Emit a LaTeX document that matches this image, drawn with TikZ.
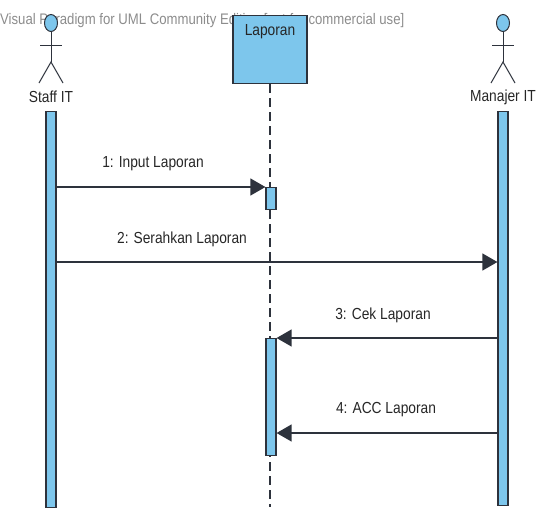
\documentclass[tikz,border=0pt]{standalone}
\usepackage{fontspec}
\setmainfont[FakeStretch=0.86]{Liberation Sans}
\usetikzlibrary{arrows.meta,shapes.geometric}
\definecolor{umlblue}{RGB}{125,198,236}
\definecolor{umlline}{RGB}{45,50,60}
\definecolor{wmgray}{RGB}{140,140,140}
\tikzset{
  bar/.style={draw=umlline, fill=umlblue, line width=1.2pt, minimum width=10pt, inner sep=0pt, anchor=north},
  msg/.style={draw=umlline, line width=1.3pt, -{Triangle[length=15pt,width=17pt]}},
  lbl/.style={font=\fontsize{16}{18}\selectfont, inner sep=0pt, text=black!85},
  actorline/.style={draw=umlline, line width=1pt},
  lifeline/.style={draw=umlline, line width=1.2pt, dash pattern=on 9pt off 5pt},
  headstyle/.style={draw=umlline, fill=umlblue, ellipse, minimum width=13pt, minimum height=17pt, inner sep=0pt, line width=1pt},
}
\begin{document}
\begin{tikzpicture}[x=1pt,y=-1pt]
\useasboundingbox (0,0) rectangle (538,507);
% watermark
\node[anchor=west, inner sep=0pt, text=wmgray, font=\fontsize{15.3}{17}\selectfont] (wm) at (0,21) {Visual Paradigm for UML Community Edition [not for commercial use]};
% Staff IT actor
\node[headstyle] (shead) at (51,23) {};
\coordinate (ship) at (51,62);
\coordinate (sarmL) at (40,45);
\coordinate (sarmR) at (62,45);
\coordinate (slegL) at (39,83);
\coordinate (slegR) at (63,83);
\draw[actorline] (shead.south) -- (ship);
\draw[actorline] (sarmL) -- (sarmR);
\draw[actorline] (slegL) -- (ship) -- (slegR);
\node[lbl] (sname) at (51,97) {Staff IT};
% Manajer IT actor
\node[headstyle] (mhead) at (503,23) {};
\coordinate (mhip) at (503,62);
\coordinate (marmL) at (492,45);
\coordinate (marmR) at (514,45);
\coordinate (mlegL) at (491,83);
\coordinate (mlegR) at (515,83);
\draw[actorline] (mhead.south) -- (mhip);
\draw[actorline] (marmL) -- (marmR);
\draw[actorline] (mlegL) -- (mhip) -- (mlegR);
\node[lbl] (mname) at (503,97) {Manajer IT};
% Laporan object
\node[draw=umlline, fill=umlblue, line width=1.2pt, minimum width=74pt, minimum height=68pt, anchor=north, inner sep=0pt] (box) at (270,15) {};
\node[lbl, anchor=north] (boxtext) at (270,24) {Laporan};
\coordinate (lifeend) at (270,507);
\draw[lifeline] (box.south) -- (box.south |- lifeend);
% lifeline bars
\node[bar, minimum height=396pt] (sbar) at (51,111) {};
\node[bar, minimum height=394pt] (mbar) at (503,111) {};
\node[bar, minimum height=22pt] (act1) at (271,187) {};
\node[bar, minimum height=117pt] (act2) at (271,338) {};
% messages
\coordinate (y2) at (0,262);
\coordinate (y4) at (0,433);
\draw[msg] (sbar.east |- act1.north) -- (act1.north west);
\node[lbl] (l1) at (153,164) {1: Input Laporan};
\draw[msg] (sbar.east |- y2) -- (mbar.west |- y2);
\node[lbl] (l2) at (182,239) {2: Serahkan Laporan};
\draw[msg] (mbar.west |- act2.north) -- (act2.north east);
\node[lbl] (l3) at (383,315) {3: Cek Laporan};
\draw[msg] (mbar.west |- y4) -- (act2.east |- y4);
\node[lbl] (l4) at (386,410) {4: ACC Laporan};
\end{tikzpicture}
\end{document}
